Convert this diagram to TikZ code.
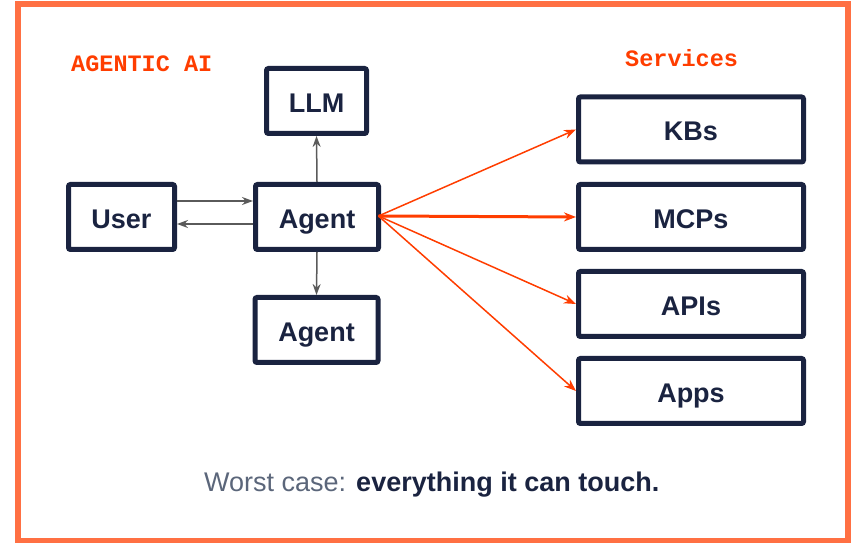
\documentclass[tikz,border=0pt]{standalone}
\usepackage{fontspec}
\setmainfont{Liberation Sans}
\setmonofont{Liberation Mono}
\usetikzlibrary{arrows.meta}

\definecolor{navy}{RGB}{26,35,64}
\definecolor{frameorange}{RGB}{255,112,67}
\definecolor{hotred}{RGB}{255,61,0}
\definecolor{linkgrey}{RGB}{90,90,90}
\definecolor{softgrey}{RGB}{91,102,122}

\begin{document}
\begin{tikzpicture}[x=1pt,y=1pt,
    box/.style={draw=navy,line width=5pt,rounded corners=2pt,fill=white,
      minimum height=65pt,text=navy,font=\fontsize{27}{30}\selectfont\bfseries,
      text height=23pt,text depth=0pt,inner sep=0pt},
    link/.style={draw=linkgrey,line width=1.5pt,
      -{Stealth[length=11pt,width=8pt]}},
    reach/.style={draw=hotred,line width=1.5pt,
      -{Stealth[length=12pt,width=9pt]}},
    tag/.style={text=hotred,font=\fontsize{23.5}{26}\selectfont\ttfamily\bfseries,
      anchor=base west,inner sep=0pt}]
  \useasboundingbox (0,0) rectangle (852,543);
  \draw[frameorange,line width=6pt] (18,2) rectangle (848,539);

  % Section headings.
  \node[tag] (agentic) at (71,471) {AGENTIC AI};
  \node[tag] (services) at (625,476) {Services};

  % Agent in the middle, with user, model and a sub-agent round it.
  \node[box,minimum width=106pt] (user) at (121.5,326) {User};
  \node[box,minimum width=123pt] (agent) at (317,326) {Agent};
  \node[box,minimum width=100pt] (llm) at (316.5,442) {LLM};
  \node[box,minimum width=123pt] (subagent) at (316.5,213) {Agent};

  \draw[link] ([yshift=16pt]user.east) -- ([yshift=16pt]agent.west);
  \draw[link] ([yshift=-7pt]agent.west) -- ([yshift=-7pt]user.east);
  \draw[link] (agent.north) -- (llm.south);
  \draw[link] (agent.south) -- (subagent.north);

  % Everything the agent can touch.
  \coordinate (hub) at (378.5,327);
  \foreach \svc/\yy/\lbl in {kbs/413.5/KBs,mcps/326/MCPs,apis/239/APIs,apps/152/Apps}{
    \node[box,minimum width=225pt] (\svc) at (691,\yy) {\lbl};
  }
  \draw[reach] (hub) -- (kbs.west);
  \draw[reach,line width=3pt] (hub) -- (mcps.west);
  \draw[reach] (hub) -- (apis.west);
  \draw[reach] (hub) -- (apps.west);

  % Caption.
  \node[anchor=base west,inner sep=0pt,font=\fontsize{27}{30}\selectfont]
    (caption) at (204,51)
    {\textcolor{softgrey}{Worst case:} \textcolor{navy}{\bfseries everything it can touch.}};
\end{tikzpicture}
\end{document}
